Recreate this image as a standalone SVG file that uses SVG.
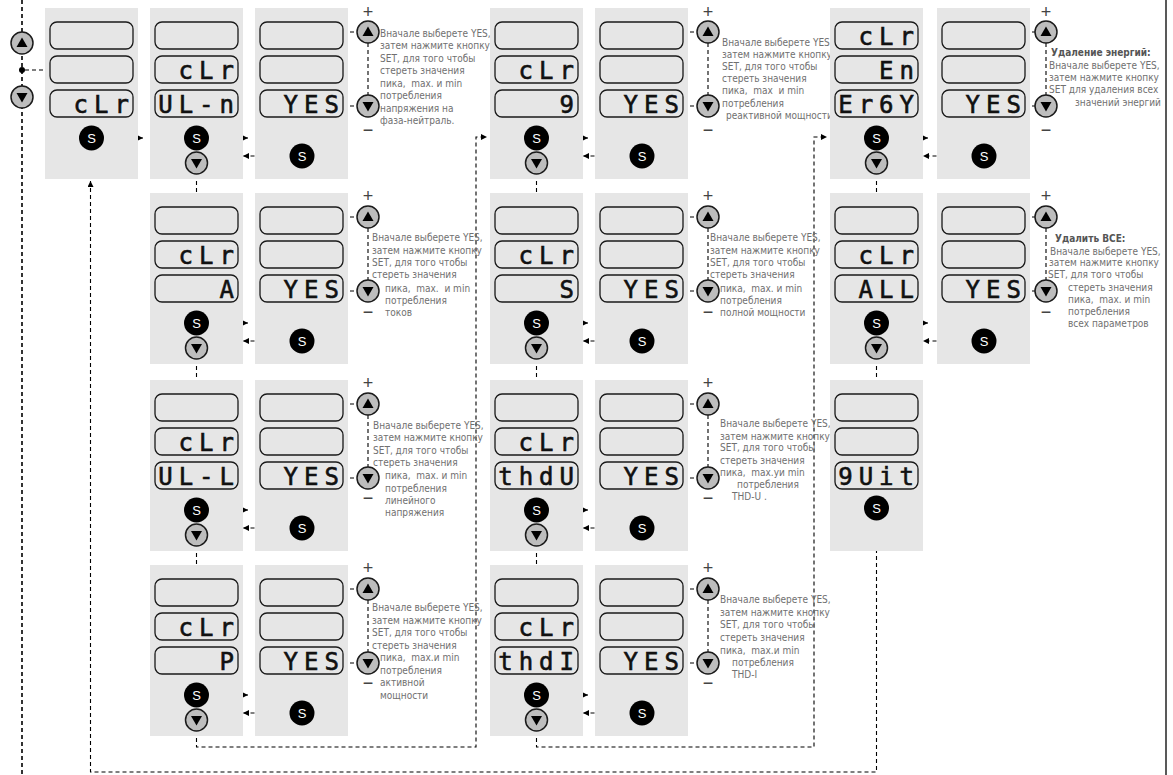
<svg xmlns="http://www.w3.org/2000/svg" xmlns:xlink="http://www.w3.org/1999/xlink" width="1173" height="775" viewBox="0 0 1173 775">
<style>
.p{fill:#e6e6e6}
.d{fill:none;stroke:#1a1a1a;stroke-width:1.3}
.seg{font-family:'DejaVu Sans Mono','Liberation Mono',monospace;font-weight:normal;font-size:24px;letter-spacing:6px;fill:#111;stroke:#111;stroke-width:0.6}
.t{font-family:'DejaVu Sans Condensed','DejaVu Sans',sans-serif;font-stretch:condensed;font-size:10px;fill:#707070}
.tb{font-weight:bold;fill:#555}
.s{font-family:'Liberation Sans',Arial,sans-serif;font-size:13px;fill:#fff;text-anchor:middle}
.btn{fill:#bdbdbd;stroke:#1a1a1a;stroke-width:1.5}
.c{fill:none;stroke:#000;stroke-width:1.1;stroke-dasharray:4 3}
.cl{fill:none;stroke:#000;stroke-width:1.6;stroke-dasharray:4 3}
.pm{font-family:'Liberation Sans',Arial,sans-serif;font-size:18px;fill:#444;text-anchor:middle}
</style>
<defs>
<g id="bS"><circle r="12.5" fill="#000"/><text class="s" y="4.5">S</text></g>
<g id="bD"><circle r="11" class="btn"/><path d="M-5.5,-4L5.5,-4L0,5.5Z" fill="#000"/></g>
<g id="bU"><circle r="11" class="btn"/><path d="M-5.5,4L5.5,4L0,-5.5Z" fill="#000"/></g>
<marker id="ar" viewBox="0 0 6 6" refX="6" refY="3" markerWidth="6" markerHeight="6" orient="auto" markerUnits="userSpaceOnUse"><path d="M0,0L6,3L0,6Z" fill="#000"/></marker>
</defs>
<rect width="1173" height="775" fill="#fff"/>
<g id="connectors">
<path class="cl" d="M22,0V775"/>
<path class="c" d="M25,70H50"/>
<path class="c" d="M104,138H143" marker-end="url(#ar)"/>
<path class="c" d="M209,138H248" marker-end="url(#ar)"/>
<path class="c" d="M289.5,156H243" marker-end="url(#ar)"/>
<path class="c" d="M549,138H588" marker-end="url(#ar)"/>
<path class="c" d="M629.5,156H583" marker-end="url(#ar)"/>
<path class="c" d="M889,138H928" marker-end="url(#ar)"/>
<path class="c" d="M971.5,156H923" marker-end="url(#ar)"/>
<path class="c" d="M209,323H248" marker-end="url(#ar)"/>
<path class="c" d="M289.5,341H243" marker-end="url(#ar)"/>
<path class="c" d="M549,323H588" marker-end="url(#ar)"/>
<path class="c" d="M629.5,341H583" marker-end="url(#ar)"/>
<path class="c" d="M889,323H928" marker-end="url(#ar)"/>
<path class="c" d="M971.5,341H923" marker-end="url(#ar)"/>
<path class="c" d="M209,510H248" marker-end="url(#ar)"/>
<path class="c" d="M289.5,528H243" marker-end="url(#ar)"/>
<path class="c" d="M549,510H588" marker-end="url(#ar)"/>
<path class="c" d="M629.5,528H583" marker-end="url(#ar)"/>
<path class="c" d="M209,695H248" marker-end="url(#ar)"/>
<path class="c" d="M289.5,713H243" marker-end="url(#ar)"/>
<path class="c" d="M549,695H588" marker-end="url(#ar)"/>
<path class="c" d="M629.5,713H583" marker-end="url(#ar)"/>
<path class="c" d="M343,32H357M343,106H357M368,43V95"/>
<path class="c" d="M683,32H697M683,106H697M708,43V95"/>
<path class="c" d="M1025,32H1035M1025,106H1035M1046,43V95"/>
<path class="c" d="M343,217H357M343,291H357M368,228V280"/>
<path class="c" d="M683,217H697M683,291H697M708,228V280"/>
<path class="c" d="M1025,217H1035M1025,291H1035M1046,228V280"/>
<path class="c" d="M343,404H357M343,478H357M368,415V467"/>
<path class="c" d="M683,404H697M683,478H697M708,415V467"/>
<path class="c" d="M343,589H357M343,663H357M368,600V652"/>
<path class="c" d="M683,589H697M683,663H697M708,600V652"/>
<path class="c" d="M196.5,174V193M196.5,359V380M196.5,546V565"/>
<path class="c" d="M536.5,174V193M536.5,359V380M536.5,546V565"/>
<path class="c" d="M876.5,174V193M876.5,359V380"/>
<path class="c" d="M196.5,731V747H476V137H487" marker-end="url(#ar)"/>
<path class="c" d="M536.5,731V747H814V137H827" marker-end="url(#ar)"/>
<path class="c" d="M876.5,521V772H90.5V181" marker-end="url(#ar)"/>
<path d="M1166,0V775" stroke="#222" stroke-width="1.5"/>
</g>
<g id="nav">
<use href="#bU" x="22" y="43"/>
<circle cx="22" cy="70" r="3" fill="#000"/>
<use href="#bD" x="22" y="97"/>
</g>
<g id="r1-A">
<rect class="p" x="45" y="8" width="93" height="171"/>
<rect class="d" x="50" y="22" width="83" height="27" rx="7"/>
<rect class="d" x="50" y="56" width="83" height="27" rx="7"/>
<rect class="d" x="50" y="90" width="83" height="27" rx="7"/>
<text class="seg" x="73.6" y="113">cLr</text>
<use href="#bS" x="91.5" y="138"/>
</g>
<g id="r1-B">
<rect class="p" x="150" y="8" width="93" height="171"/>
<rect class="d" x="155" y="22" width="83" height="27" rx="7"/>
<rect class="d" x="155" y="56" width="83" height="27" rx="7"/>
<rect class="d" x="155" y="90" width="83" height="27" rx="7"/>
<text class="seg" x="178.6" y="79">cLr</text>
<text class="seg" x="158.2" y="113">UL-n</text>
<use href="#bS" x="196.5" y="138"/>
<use href="#bD" x="196.5" y="163"/>
</g>
<g id="r1-C">
<rect class="p" x="255" y="8" width="93" height="171"/>
<rect class="d" x="260" y="22" width="83" height="27" rx="7"/>
<rect class="d" x="260" y="56" width="83" height="27" rx="7"/>
<rect class="d" x="260" y="90" width="83" height="27" rx="7"/>
<text class="seg" x="283.6" y="113">YES</text>
<use href="#bS" x="302" y="156"/>
<use href="#bU" x="368" y="32"/>
<use href="#bD" x="368" y="106"/>
<text class="pm" x="368" y="18">+</text>
<text class="pm" x="368" y="136">−</text>
<text class="t" x="380" y="36.5">Вначале выберете YES,</text>
<text class="t" x="380" y="49">затем нажмите кнопку</text>
<text class="t" x="380" y="61.5">SET, для того чтобы</text>
<text class="t" x="380" y="74">стереть значения</text>
<text class="t" x="380" y="86.5" xml:space="preserve">пика,  max. и min</text>
<text class="t" x="380" y="99">потребления</text>
<text class="t" x="380" y="111.5">напряжения на</text>
<text class="t" x="380" y="124">фаза-нейтраль.</text>
</g>
<g id="r1-D">
<rect class="p" x="490" y="8" width="93" height="171"/>
<rect class="d" x="495" y="22" width="83" height="27" rx="7"/>
<rect class="d" x="495" y="56" width="83" height="27" rx="7"/>
<rect class="d" x="495" y="90" width="83" height="27" rx="7"/>
<text class="seg" x="518.6" y="79">cLr</text>
<text class="seg" x="559.5" y="113">9</text>
<use href="#bS" x="536.5" y="138"/>
<use href="#bD" x="536.5" y="163"/>
</g>
<g id="r1-E">
<rect class="p" x="595" y="8" width="93" height="171"/>
<rect class="d" x="600" y="22" width="83" height="27" rx="7"/>
<rect class="d" x="600" y="56" width="83" height="27" rx="7"/>
<rect class="d" x="600" y="90" width="83" height="27" rx="7"/>
<text class="seg" x="623.6" y="113">YES</text>
<use href="#bS" x="642" y="156"/>
<use href="#bU" x="708" y="32"/>
<use href="#bD" x="708" y="106"/>
<text class="pm" x="708" y="18">+</text>
<text class="pm" x="708" y="136">−</text>
<text class="t" x="722" y="45.5">Вначале выберете YES,</text>
<text class="t" x="722" y="57.7">затем нажмите кнопку</text>
<text class="t" x="722" y="69.9">SET, для того чтобы</text>
<text class="t" x="722" y="82.1">стереть значения</text>
<text class="t" x="722" y="94.3" xml:space="preserve">пика,  max  и min</text>
<text class="t" x="722" y="106.5">потребления</text>
<text class="t" x="726" y="118.7">реактивной мощности</text>
</g>
<g id="r1-F">
<rect class="p" x="830" y="8" width="93" height="171"/>
<rect class="d" x="835" y="22" width="83" height="27" rx="7"/>
<rect class="d" x="835" y="56" width="83" height="27" rx="7"/>
<rect class="d" x="835" y="90" width="83" height="27" rx="7"/>
<text class="seg" x="858.6" y="45">cLr</text>
<text class="seg" x="879.1" y="79">En</text>
<text class="seg" x="838.2" y="113">Er6Y</text>
<use href="#bS" x="876.5" y="138"/>
<use href="#bD" x="876.5" y="163"/>
</g>
<g id="r1-G">
<rect class="p" x="937" y="8" width="93" height="171"/>
<rect class="d" x="942" y="22" width="83" height="27" rx="7"/>
<rect class="d" x="942" y="56" width="83" height="27" rx="7"/>
<rect class="d" x="942" y="90" width="83" height="27" rx="7"/>
<text class="seg" x="965.6" y="113">YES</text>
<use href="#bS" x="984" y="156"/>
<use href="#bU" x="1046" y="32"/>
<use href="#bD" x="1046" y="106"/>
<text class="pm" x="1046" y="18">+</text>
<text class="pm" x="1046" y="136">−</text>
<text class="t tb" x="1051" y="55.5">Удаление энергий:</text>
<text class="t" x="1049" y="68.5">Вначале выберете YES,</text>
<text class="t" x="1049" y="80.5">затем нажмите кнопку</text>
<text class="t" x="1049" y="92.5">SET для удаления всех</text>
<text class="t" x="1075" y="105.5">значений энергий</text>
</g>
<g id="r2-B">
<rect class="p" x="150" y="193" width="93" height="171"/>
<rect class="d" x="155" y="207" width="83" height="27" rx="7"/>
<rect class="d" x="155" y="241" width="83" height="27" rx="7"/>
<rect class="d" x="155" y="275" width="83" height="27" rx="7"/>
<text class="seg" x="178.6" y="264">cLr</text>
<text class="seg" x="219.5" y="298">A</text>
<use href="#bS" x="196.5" y="323"/>
<use href="#bD" x="196.5" y="348"/>
</g>
<g id="r2-C">
<rect class="p" x="255" y="193" width="93" height="171"/>
<rect class="d" x="260" y="207" width="83" height="27" rx="7"/>
<rect class="d" x="260" y="241" width="83" height="27" rx="7"/>
<rect class="d" x="260" y="275" width="83" height="27" rx="7"/>
<text class="seg" x="283.6" y="298">YES</text>
<use href="#bS" x="302" y="341"/>
<use href="#bU" x="368" y="217"/>
<use href="#bD" x="368" y="291"/>
<text class="pm" x="368" y="202">+</text>
<text class="pm" x="368" y="318">−</text>
<text class="t" x="372" y="240.5">Вначале выберете YES,</text>
<text class="t" x="372" y="253.5">затем нажмите кнопку</text>
<text class="t" x="372" y="265.5">SET, для того чтобы</text>
<text class="t" x="372" y="277.5">стереть значения</text>
<text class="t" x="385" y="291.5" xml:space="preserve">пика,  max.  и min</text>
<text class="t" x="385" y="303.5">потребления</text>
<text class="t" x="385" y="315.5">токов</text>
</g>
<g id="r2-D">
<rect class="p" x="490" y="193" width="93" height="171"/>
<rect class="d" x="495" y="207" width="83" height="27" rx="7"/>
<rect class="d" x="495" y="241" width="83" height="27" rx="7"/>
<rect class="d" x="495" y="275" width="83" height="27" rx="7"/>
<text class="seg" x="518.6" y="264">cLr</text>
<text class="seg" x="559.5" y="298">S</text>
<use href="#bS" x="536.5" y="323"/>
<use href="#bD" x="536.5" y="348"/>
</g>
<g id="r2-E">
<rect class="p" x="595" y="193" width="93" height="171"/>
<rect class="d" x="600" y="207" width="83" height="27" rx="7"/>
<rect class="d" x="600" y="241" width="83" height="27" rx="7"/>
<rect class="d" x="600" y="275" width="83" height="27" rx="7"/>
<text class="seg" x="623.6" y="298">YES</text>
<use href="#bS" x="642" y="341"/>
<use href="#bU" x="708" y="217"/>
<use href="#bD" x="708" y="291"/>
<text class="pm" x="708" y="202">+</text>
<text class="pm" x="708" y="318">−</text>
<text class="t" x="710" y="240.5">Вначале выберете YES,</text>
<text class="t" x="710" y="253.5">затем нажмите кнопку</text>
<text class="t" x="710" y="265.5">SET, для того чтобы</text>
<text class="t" x="710" y="277.5">стереть значения</text>
<text class="t" x="720" y="291.5" xml:space="preserve">пика,  max. и min</text>
<text class="t" x="720" y="303.5">потребления</text>
<text class="t" x="720" y="315.5">полной мощности</text>
</g>
<g id="r2-F">
<rect class="p" x="830" y="193" width="93" height="171"/>
<rect class="d" x="835" y="207" width="83" height="27" rx="7"/>
<rect class="d" x="835" y="241" width="83" height="27" rx="7"/>
<rect class="d" x="835" y="275" width="83" height="27" rx="7"/>
<text class="seg" x="858.6" y="264">cLr</text>
<text class="seg" x="858.6" y="298">ALL</text>
<use href="#bS" x="876.5" y="323"/>
<use href="#bD" x="876.5" y="348"/>
</g>
<g id="r2-G">
<rect class="p" x="937" y="193" width="93" height="171"/>
<rect class="d" x="942" y="207" width="83" height="27" rx="7"/>
<rect class="d" x="942" y="241" width="83" height="27" rx="7"/>
<rect class="d" x="942" y="275" width="83" height="27" rx="7"/>
<text class="seg" x="965.6" y="298">YES</text>
<use href="#bS" x="984" y="341"/>
<use href="#bU" x="1046" y="217"/>
<use href="#bD" x="1046" y="291"/>
<text class="pm" x="1046" y="202">+</text>
<text class="pm" x="1046" y="318">−</text>
<text class="t tb" x="1055" y="241.5">Удалить ВСЕ:</text>
<text class="t" x="1050" y="254.5">Вначале выберете YES,</text>
<text class="t" x="1049" y="265.5">затем нажмите кнопку</text>
<text class="t" x="1048" y="277.5">SET, для того чтобы</text>
<text class="t" x="1068" y="290.5">стереть значения</text>
<text class="t" x="1068" y="302.5" xml:space="preserve">пика,  max. и min</text>
<text class="t" x="1068" y="314.5">потребления</text>
<text class="t" x="1068" y="326.5">всех параметров</text>
</g>
<g id="r3-B">
<rect class="p" x="150" y="380" width="93" height="171"/>
<rect class="d" x="155" y="394" width="83" height="27" rx="7"/>
<rect class="d" x="155" y="428" width="83" height="27" rx="7"/>
<rect class="d" x="155" y="462" width="83" height="27" rx="7"/>
<text class="seg" x="178.6" y="451">cLr</text>
<text class="seg" x="158.2" y="485">UL-L</text>
<use href="#bS" x="196.5" y="510"/>
<use href="#bD" x="196.5" y="535"/>
</g>
<g id="r3-C">
<rect class="p" x="255" y="380" width="93" height="171"/>
<rect class="d" x="260" y="394" width="83" height="27" rx="7"/>
<rect class="d" x="260" y="428" width="83" height="27" rx="7"/>
<rect class="d" x="260" y="462" width="83" height="27" rx="7"/>
<text class="seg" x="283.6" y="485">YES</text>
<use href="#bS" x="302" y="528"/>
<use href="#bU" x="368" y="404"/>
<use href="#bD" x="368" y="478"/>
<text class="pm" x="368" y="389">+</text>
<text class="pm" x="368" y="504">−</text>
<text class="t" x="373" y="428.5">Вначале выберете YES,</text>
<text class="t" x="373" y="440.5">затем нажмите кнопку</text>
<text class="t" x="373" y="453.5">SET, для того чтобы</text>
<text class="t" x="373" y="465.5">стереть значения</text>
<text class="t" x="385" y="478.5" xml:space="preserve">пика,  max. и min</text>
<text class="t" x="385" y="491.5">потребления</text>
<text class="t" x="385" y="503.5">линейного</text>
<text class="t" x="385" y="515.5">напряжения</text>
</g>
<g id="r3-D">
<rect class="p" x="490" y="380" width="93" height="171"/>
<rect class="d" x="495" y="394" width="83" height="27" rx="7"/>
<rect class="d" x="495" y="428" width="83" height="27" rx="7"/>
<rect class="d" x="495" y="462" width="83" height="27" rx="7"/>
<text class="seg" x="518.6" y="451">cLr</text>
<text class="seg" x="498.2" y="485">thdU</text>
<use href="#bS" x="536.5" y="510"/>
<use href="#bD" x="536.5" y="535"/>
</g>
<g id="r3-E">
<rect class="p" x="595" y="380" width="93" height="171"/>
<rect class="d" x="600" y="394" width="83" height="27" rx="7"/>
<rect class="d" x="600" y="428" width="83" height="27" rx="7"/>
<rect class="d" x="600" y="462" width="83" height="27" rx="7"/>
<text class="seg" x="623.6" y="485">YES</text>
<use href="#bS" x="642" y="528"/>
<use href="#bU" x="708" y="404"/>
<use href="#bD" x="708" y="478"/>
<text class="pm" x="708" y="389">+</text>
<text class="pm" x="708" y="504">−</text>
<text class="t" x="720" y="426.5">Вначале выберете YES,</text>
<text class="t" x="720" y="439.5">затем нажмите кнопку</text>
<text class="t" x="720" y="450.5">SET, для того чтобы</text>
<text class="t" x="720" y="463.5">стереть значения</text>
<text class="t" x="720" y="475.5" xml:space="preserve">пика,  max.yи min</text>
<text class="t" x="737" y="487.5">потребления</text>
<text class="t" x="732" y="499.5">THD-U .</text>
</g>
<g id="r3-F">
<rect class="p" x="830" y="380" width="93" height="171"/>
<rect class="d" x="835" y="394" width="83" height="27" rx="7"/>
<rect class="d" x="835" y="428" width="83" height="27" rx="7"/>
<rect class="d" x="835" y="462" width="83" height="27" rx="7"/>
<text class="seg" x="838.2" y="485">9Uit</text>
<use href="#bS" x="876.5" y="508"/>
</g>
<g id="r4-B">
<rect class="p" x="150" y="565" width="93" height="171"/>
<rect class="d" x="155" y="579" width="83" height="27" rx="7"/>
<rect class="d" x="155" y="613" width="83" height="27" rx="7"/>
<rect class="d" x="155" y="647" width="83" height="27" rx="7"/>
<text class="seg" x="178.6" y="636">cLr</text>
<text class="seg" x="219.5" y="670">P</text>
<use href="#bS" x="196.5" y="695"/>
<use href="#bD" x="196.5" y="720"/>
</g>
<g id="r4-C">
<rect class="p" x="255" y="565" width="93" height="171"/>
<rect class="d" x="260" y="579" width="83" height="27" rx="7"/>
<rect class="d" x="260" y="613" width="83" height="27" rx="7"/>
<rect class="d" x="260" y="647" width="83" height="27" rx="7"/>
<text class="seg" x="283.6" y="670">YES</text>
<use href="#bS" x="302" y="713"/>
<use href="#bU" x="368" y="589"/>
<use href="#bD" x="368" y="663"/>
<text class="pm" x="368" y="574">+</text>
<text class="pm" x="368" y="689">−</text>
<text class="t" x="372" y="610.5">Вначале выберете YES,</text>
<text class="t" x="372" y="623.5">затем нажмите кнопку</text>
<text class="t" x="372" y="635.5">SET, для того чтобы</text>
<text class="t" x="372" y="648.5">стереть значения</text>
<text class="t" x="380" y="660.5" xml:space="preserve">пика,  max.и min</text>
<text class="t" x="380" y="673.5">потребления</text>
<text class="t" x="380" y="685.5">активной</text>
<text class="t" x="380" y="698.5">мощности</text>
</g>
<g id="r4-D">
<rect class="p" x="490" y="565" width="93" height="171"/>
<rect class="d" x="495" y="579" width="83" height="27" rx="7"/>
<rect class="d" x="495" y="613" width="83" height="27" rx="7"/>
<rect class="d" x="495" y="647" width="83" height="27" rx="7"/>
<text class="seg" x="518.6" y="636">cLr</text>
<text class="seg" x="498.2" y="670">thdI</text>
<use href="#bS" x="536.5" y="695"/>
<use href="#bD" x="536.5" y="720"/>
</g>
<g id="r4-E">
<rect class="p" x="595" y="565" width="93" height="171"/>
<rect class="d" x="600" y="579" width="83" height="27" rx="7"/>
<rect class="d" x="600" y="613" width="83" height="27" rx="7"/>
<rect class="d" x="600" y="647" width="83" height="27" rx="7"/>
<text class="seg" x="623.6" y="670">YES</text>
<use href="#bS" x="642" y="713"/>
<use href="#bU" x="708" y="589"/>
<use href="#bD" x="708" y="663"/>
<text class="pm" x="708" y="574">+</text>
<text class="pm" x="708" y="689">−</text>
<text class="t" x="720" y="602.5">Вначале выберете YES,</text>
<text class="t" x="720" y="615.5">затем нажмите кнопку</text>
<text class="t" x="720" y="627.5">SET, для того чтобы</text>
<text class="t" x="720" y="640.5">стереть значения</text>
<text class="t" x="720" y="653.5" xml:space="preserve">пика,  max.и min</text>
<text class="t" x="732" y="665.5">потребления</text>
<text class="t" x="732" y="677.5">THD-I</text>
</g>
</svg>
